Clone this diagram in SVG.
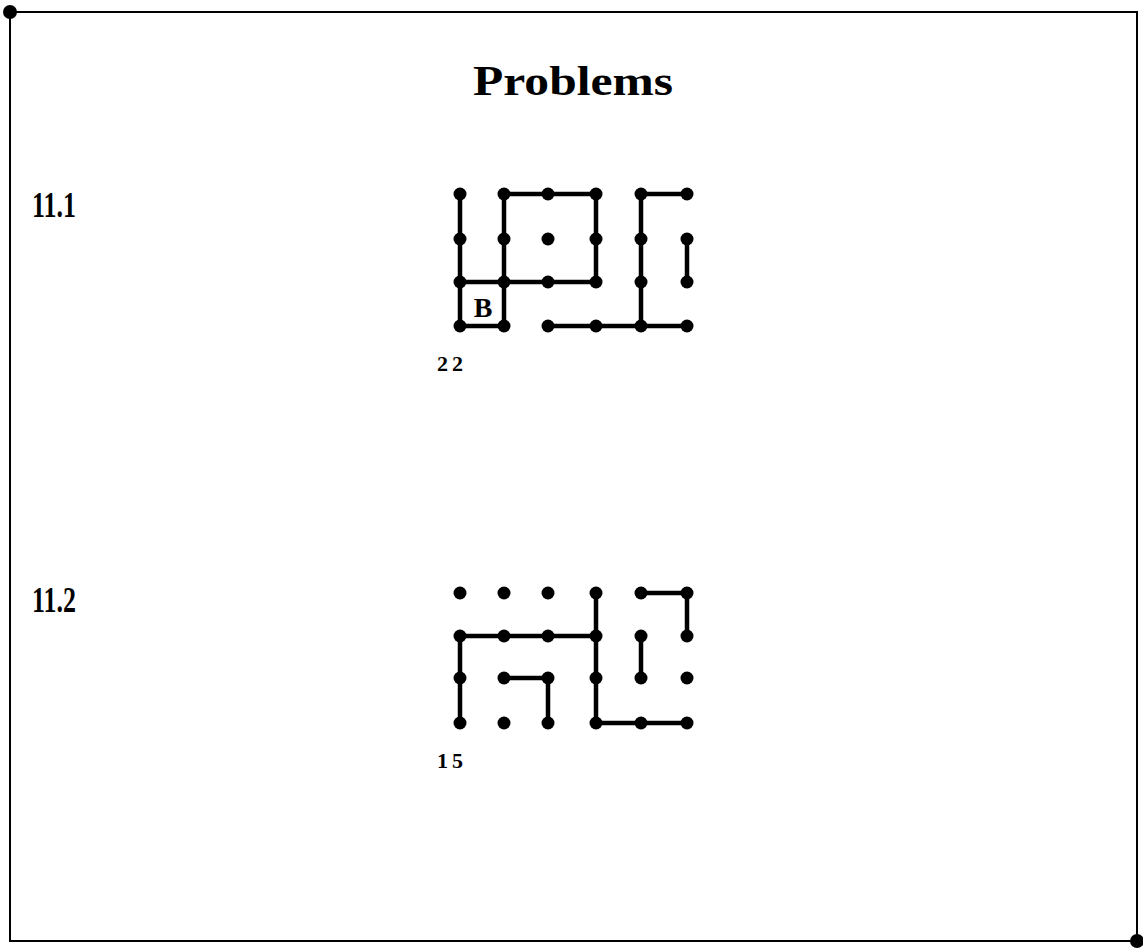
<svg xmlns="http://www.w3.org/2000/svg" width="1143" height="949" viewBox="0 0 1143 949">
<style>
.frame{fill:none;stroke:#000;stroke-width:2}
.ln{stroke:#000;stroke-width:4.5;stroke-linecap:round;fill:none}
.dot{fill:#000}
.t{font-family:"Liberation Serif","Times New Roman",serif;font-weight:bold;fill:#000}
</style>
<rect x="0" y="0" width="1143" height="949" fill="#fff"/>
<g id="frame">
<rect class="frame" x="10" y="12" width="1127" height="929"/>
<circle class="dot" cx="10" cy="12" r="7"/>
<circle class="dot" cx="1137" cy="941" r="7"/>
</g>
<g id="title"><text class="t" x="573" y="95" font-size="42" text-anchor="middle" textLength="200" lengthAdjust="spacingAndGlyphs">Problems</text></g>
<g id="label1"><text class="t" x="32" y="217" font-size="36" textLength="44" lengthAdjust="spacingAndGlyphs">11.1</text></g>
<g id="label2"><text class="t" x="32" y="612" font-size="36" textLength="44" lengthAdjust="spacingAndGlyphs">11.2</text></g>

<g id="connectors">
<path class="ln" d="M460 194V326M460 282H596M460 326H504M504 194V326M504 194H596V282M641 326V194H687M687 239V282M548 326H687"/>
<path class="ln" d="M596 593V723H687M641 593H687V636M460 723V636H596M504 678H548V723M641 636V678"/>
</g>

<g id="grid1">
<g class="dot">
<circle cx="460" cy="194" r="6.5"/><circle cx="504" cy="194" r="6.5"/><circle cx="548" cy="194" r="6.5"/><circle cx="596" cy="194" r="6.5"/><circle cx="641" cy="194" r="6.5"/><circle cx="687" cy="194" r="6.5"/>
<circle cx="460" cy="239" r="6.5"/><circle cx="504" cy="239" r="6.5"/><circle cx="548" cy="239" r="6.5"/><circle cx="596" cy="239" r="6.5"/><circle cx="641" cy="239" r="6.5"/><circle cx="687" cy="239" r="6.5"/>
<circle cx="460" cy="282" r="6.5"/><circle cx="504" cy="282" r="6.5"/><circle cx="548" cy="282" r="6.5"/><circle cx="596" cy="282" r="6.5"/><circle cx="641" cy="282" r="6.5"/><circle cx="687" cy="282" r="6.5"/>
<circle cx="460" cy="326" r="6.5"/><circle cx="504" cy="326" r="6.5"/><circle cx="548" cy="326" r="6.5"/><circle cx="596" cy="326" r="6.5"/><circle cx="641" cy="326" r="6.5"/><circle cx="687" cy="326" r="6.5"/>
</g>
<text class="t" x="483" y="317" font-size="28" text-anchor="middle">B</text>
<text class="t" x="437" y="371" font-size="22" letter-spacing="4">22</text>
</g>

<g id="grid2">
<g class="dot">
<circle cx="460" cy="593" r="6.5"/><circle cx="504" cy="593" r="6.5"/><circle cx="548" cy="593" r="6.5"/><circle cx="596" cy="593" r="6.5"/><circle cx="641" cy="593" r="6.5"/><circle cx="687" cy="593" r="6.5"/>
<circle cx="460" cy="636" r="6.5"/><circle cx="504" cy="636" r="6.5"/><circle cx="548" cy="636" r="6.5"/><circle cx="596" cy="636" r="6.5"/><circle cx="641" cy="636" r="6.5"/><circle cx="687" cy="636" r="6.5"/>
<circle cx="460" cy="678" r="6.5"/><circle cx="504" cy="678" r="6.5"/><circle cx="548" cy="678" r="6.5"/><circle cx="596" cy="678" r="6.5"/><circle cx="641" cy="678" r="6.5"/><circle cx="687" cy="678" r="6.5"/>
<circle cx="460" cy="723" r="6.5"/><circle cx="504" cy="723" r="6.5"/><circle cx="548" cy="723" r="6.5"/><circle cx="596" cy="723" r="6.5"/><circle cx="641" cy="723" r="6.5"/><circle cx="687" cy="723" r="6.5"/>
</g>
<text class="t" x="437" y="768" font-size="22" letter-spacing="4">15</text>
</g>
</svg>
